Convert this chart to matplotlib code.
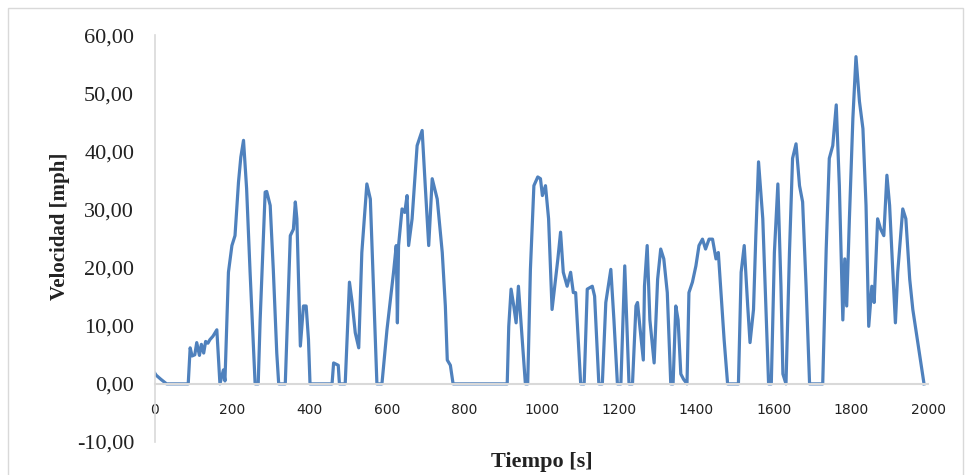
import matplotlib
matplotlib.use("Agg")
import matplotlib.pyplot as plt
from matplotlib.patches import Rectangle

# Time [s] and speed [mph]
tiempo = [0, 3, 15, 30, 86, 91, 96, 103, 108, 115, 120, 126, 131, 137, 142, 150, 160, 168, 177, 181,
          190, 199, 207, 216, 222, 229, 237, 246, 259, 267,
          272, 285, 289, 298, 306, 315, 320, 337,
          350, 358, 363, 367, 376, 384, 391, 397, 401, 458, 462, 474, 477, 492,
          503, 510, 518, 527, 535, 548, 557, 565, 574, 587,
          600, 617, 624, 627, 630, 639, 646, 652, 656, 665, 678, 691, 699, 708, 717, 730, 743, 751,
          756, 764, 771, 911,
          915, 921, 928, 934, 940, 950, 958, 964,
          971, 980, 990, 997, 1002, 1010, 1018, 1027, 1036, 1042, 1049, 1056, 1066, 1075, 1082, 1088, 1101, 1110,
          1118, 1131, 1137, 1148, 1157,
          1166, 1179, 1187, 1196, 1205,
          1215, 1226, 1235,
          1244, 1248, 1254, 1263, 1266, 1273, 1280, 1291, 1300, 1308, 1316, 1325, 1334, 1340,
          1347, 1353, 1360, 1367, 1376,
          1381, 1390, 1399, 1407, 1416, 1424, 1433, 1442, 1451, 1457, 1464, 1472, 1481, 1509,
          1516, 1524, 1533, 1539, 1548, 1554, 1561, 1572, 1580, 1587, 1594,
          1602, 1611, 1619, 1624, 1632,
          1641, 1649, 1658, 1667, 1675, 1684, 1693, 1727,
          1736, 1744, 1753, 1762, 1770, 1779, 1784, 1789, 1796, 1805, 1813, 1822, 1831, 1839, 1846,
          1854, 1860, 1869, 1877, 1885, 1893, 1900, 1908, 1915, 1921, 1934, 1942, 1952, 1960, 1973, 1982, 1989]
velocidad = [1.8, 1.5, 0.8, 0, 0, 6.2, 4.8, 5.0, 7.1, 4.9, 6.8, 5.3, 7.3, 7.0, 7.6, 8.2, 9.3, 0, 2.4, 0.5,
             19.2, 23.8, 25.5, 34.7, 39.0, 41.9, 33.6, 19.2, 0, 0,
             11.0, 33.0, 33.1, 30.7, 19.7, 5.3, 0, 0,
             25.5, 26.6, 31.3, 28.4, 6.5, 13.4, 13.4, 7.6, 0, 0, 3.6, 3.2, 0, 0,
             17.5, 14.0, 8.8, 6.2, 22.6, 34.4, 31.8, 16.8, 0, 0,
             9.3, 19.2, 23.8, 10.5, 23.8, 30.1, 29.5, 32.4, 23.8, 28.4, 41.0, 43.6, 34.1, 23.8, 35.3, 31.8, 22.6, 13.4,
             4.1, 3.2, 0, 0,
             9.9, 16.3, 13.4, 10.5, 16.8, 7.6, 0, 0,
             19.7, 34.1, 35.6, 35.3, 32.4, 34.1, 28.4, 12.8, 18.0, 21.5, 26.1, 19.2, 16.8, 19.2, 15.7, 15.7, 0, 0,
             16.3, 16.8, 15.1, 0, 0,
             14.0, 19.7, 11.0, 0, 0,
             20.3, 0, 0,
             13.4, 14.0, 9.9, 4.1, 16.8, 23.8, 11.0, 3.6, 18.0, 23.2, 21.5, 15.7, 0, 0,
             13.4, 11.0, 1.7, 0.8, 0,
             15.7, 17.5, 20.3, 23.8, 24.9, 23.2, 24.9, 24.9, 21.5, 22.6, 15.7, 7.6, 0, 0,
             19.2, 23.8, 13.4, 7.1, 12.8, 25.5, 38.2, 28.4, 13.4, 0, 0,
             22.6, 34.4, 16.8, 1.7, 0,
             22.6, 38.8, 41.3, 34.1, 31.3, 16.8, 0, 0,
             23.2, 38.8, 41.0, 48.0, 34.1, 11.0, 21.5, 13.4, 28.4, 45.7, 56.3, 48.6, 43.9, 30.7, 9.9,
             16.8, 14.0, 28.4, 26.6, 25.5, 35.9, 30.7, 19.7, 10.5, 19.2, 30.1, 28.4, 18.0, 12.8, 7.1, 3.2, 0]

x_ticks = [0, 200, 400, 600, 800, 1000, 1200, 1400, 1600, 1800, 2000]
y_ticks = [-10, 0, 10, 20, 30, 40, 50, 60]
y_tick_labels = ["-10,00", "0,00", "10,00", "20,00", "30,00", "40,00", "50,00", "60,00"]

serif = ["Liberation Serif", "DejaVu Serif"]

fig = plt.figure(figsize=(9.71, 4.75), dpi=100)
ax = fig.add_axes([0.1596, 0.0695, 0.7964, 0.8565])

ax.plot(tiempo, velocidad, color="#4f81bd", linewidth=2.3, solid_joinstyle="round")

ax.set_xlim(0, 2000)
ax.set_ylim(-10, 60)
ax.set_xticks(x_ticks)
ax.set_xticklabels([str(t) for t in x_ticks], fontfamily=serif, fontsize=16)
ax.set_yticks(y_ticks)
ax.set_yticklabels(y_tick_labels, fontfamily=serif, fontsize=16)

ax.spines["top"].set_visible(False)
ax.spines["right"].set_visible(False)
ax.spines["left"].set_color("#d9d9d9")
ax.spines["bottom"].set_color("#d9d9d9")
ax.spines["bottom"].set_position(("data", 0))
ax.spines["left"].set_linewidth(1.2)
ax.spines["bottom"].set_linewidth(1.5)
ax.tick_params(axis="both", length=0, colors="#222222")
ax.tick_params(axis="x", pad=14)
ax.tick_params(axis="y", pad=15)

fig.text(0.062, 0.524, "Velocidad [mph]", rotation=90, ha="center", va="center",
         fontfamily=serif, fontsize=15, fontweight="bold", color="#222222")
fig.text(0.558, 0.027, "Tiempo [s]", ha="center", va="center",
         fontfamily=serif, fontsize=16, fontweight="bold", color="#222222")

fig.patches.append(Rectangle((0.008, -0.02), 0.984, 1.004, transform=fig.transFigure,
                             fill=False, edgecolor="#d9d9d9", linewidth=1.0))

fig.savefig("out.png", dpi=100)
